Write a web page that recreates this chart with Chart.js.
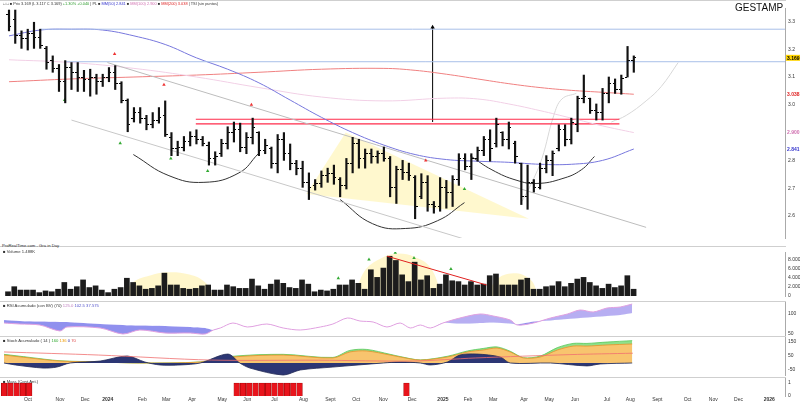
<!DOCTYPE html>
<html>
<head>
<meta charset="utf-8">
<script src="https://cdn.jsdelivr.net/npm/chart.js"></script>
<style>
body{margin:0;background:#fff;width:800px;height:403px;overflow:hidden;font-family:"Liberation Sans",Arial,sans-serif;position:relative}
.pn{position:absolute;left:0}
.txt{position:absolute;font-size:5px;color:#333;white-space:nowrap}
.sep{position:absolute;left:0;width:786px;height:1px;background:#cfcfcf}
</style>
</head>
<body>
<canvas class="pn" id="price" width="800" height="240" style="top:3px"></canvas>
<canvas class="pn" id="vol" width="800" height="52" style="top:248px"></canvas>
<canvas class="pn" id="rsi" width="800" height="34" style="top:302px"></canvas>
<canvas class="pn" id="sto" width="800" height="39" style="top:337px"></canvas>
<canvas class="pn" id="mass" width="800" height="25" style="top:378px"></canvas>
<div class="sep" style="top:0"></div>
<div class="sep" style="top:246px"></div>
<div class="sep" style="top:301px"></div>
<div class="sep" style="top:336px"></div>
<div class="sep" style="top:377px"></div>
<div class="txt" style="left:3px;top:1px;font-size:3.9px">&#9633; &#9633; &#9632; Prix 3.169 (L 3.117 C 3.169) <span style="color:#2a9a2a">+1.30% +0.040</span> | PL &#9632; <span style="color:#33c">MM(50) 2.841</span> &#9632; <span style="color:#d070b0">MM(100) 2.900</span> &#9632; <span style="color:#d22">MM(200) 3.038</span> | TSI (sin puntos)</div>
<div style="position:absolute;left:735px;top:2px;font-size:10px;color:#111">GESTAMP</div>
<div class="txt" style="left:2px;top:243px;font-size:4.2px">ProRealTime.com - Gra in Day</div>
<div class="txt" style="left:3px;top:249px;font-size:4.2px">&#9632; Volume 1.488K</div>
<div class="txt" style="left:3px;top:303px;font-size:4.2px">&#9632; RSI Acumulado (con BV) (70) <span style="color:#c080c0">125.0</span> <span style="color:#55c">102.5 37.575</span></div>
<div class="txt" style="left:3px;top:338px;font-size:4.2px">&#9632; Stoch Acumulado ( 14 ) <span style="color:#3a3">160</span> <span style="color:#e90">136</span> <span style="color:#33a">0</span> <span style="color:#d44">70</span></div>
<div class="txt" style="left:3px;top:379px;font-size:4.2px">&#9632; Mass (Cont.Ant.)</div>
<script>
// ---- data (weekly bars, x = week index) ----
const openP  = [3.324,3.307,3.248,3.238,3.255,3.241,3.203,3.159,3.131,3.083,3.134,3.117,3.100,3.090,3.097,3.083,3.097,3.117,3.076,3.014,2.952,2.972,2.952,2.928,2.945,2.962,2.883,2.841,2.848,2.869,2.886,2.876,2.855,2.807,2.824,2.859,2.900,2.910,2.848,2.883,2.900,2.834,2.841,2.790,2.876,2.824,2.790,2.772,2.721,2.710,2.717,2.745,2.752,2.731,2.710,2.790,2.859,2.807,2.824,2.814,2.824,2.807,2.703,2.766,2.755,2.738,2.669,2.721,2.641,2.634,2.703,2.686,2.731,2.807,2.779,2.807,2.834,2.876,2.859,2.900,2.876,2.859,2.790,2.669,2.721,2.703,2.772,2.800,2.841,2.910,2.876,2.928,3.021,3.024,2.979,2.972,3.041,3.076,3.055,3.100,3.159];
const highP  = [3.341,3.341,3.266,3.272,3.297,3.272,3.210,3.176,3.145,3.159,3.152,3.152,3.124,3.128,3.110,3.110,3.134,3.141,3.083,3.021,2.990,2.990,2.962,2.972,2.990,3.014,2.900,2.869,2.886,2.903,2.910,2.886,2.866,2.831,2.876,2.921,2.938,2.934,2.900,2.952,2.903,2.876,2.848,2.893,2.900,2.859,2.800,2.797,2.755,2.731,2.762,2.772,2.783,2.738,2.807,2.883,2.876,2.841,2.841,2.834,2.848,2.814,2.779,2.800,2.790,2.745,2.752,2.745,2.652,2.738,2.728,2.745,2.824,2.824,2.824,2.848,2.886,2.910,2.952,2.903,2.938,2.869,2.790,2.783,2.731,2.790,2.817,2.834,2.928,2.928,2.952,3.031,3.107,3.024,3.003,3.059,3.100,3.093,3.107,3.210,3.176];
const lowP   = [3.266,3.221,3.203,3.197,3.203,3.203,3.128,3.117,3.048,3.007,3.055,3.048,3.048,3.031,3.038,3.066,3.083,3.055,3.007,2.903,2.938,2.934,2.910,2.917,2.934,2.886,2.817,2.817,2.834,2.852,2.859,2.852,2.783,2.783,2.814,2.841,2.866,2.831,2.824,2.859,2.817,2.824,2.772,2.755,2.800,2.766,2.748,2.703,2.659,2.693,2.703,2.721,2.714,2.669,2.697,2.755,2.772,2.772,2.790,2.790,2.797,2.669,2.645,2.731,2.728,2.590,2.662,2.617,2.610,2.617,2.628,2.634,2.710,2.766,2.731,2.797,2.817,2.797,2.848,2.852,2.841,2.790,2.641,2.624,2.686,2.697,2.755,2.745,2.834,2.852,2.859,2.903,3.007,2.969,2.945,2.945,3.007,3.041,3.038,3.100,3.117];
const closeP = [3.283,3.248,3.238,3.255,3.241,3.214,3.152,3.131,3.083,3.134,3.117,3.100,3.090,3.097,3.083,3.097,3.117,3.076,3.014,2.928,2.972,2.952,2.928,2.945,2.955,2.893,2.841,2.848,2.869,2.886,2.876,2.859,2.807,2.814,2.859,2.900,2.910,2.848,2.883,2.917,2.834,2.855,2.790,2.876,2.824,2.790,2.772,2.721,2.703,2.717,2.745,2.752,2.738,2.710,2.790,2.859,2.807,2.824,2.814,2.824,2.807,2.703,2.766,2.755,2.745,2.634,2.721,2.641,2.634,2.703,2.686,2.731,2.807,2.779,2.807,2.834,2.876,2.841,2.928,2.876,2.917,2.814,2.669,2.721,2.703,2.772,2.800,2.824,2.910,2.876,2.938,3.021,3.031,2.979,2.972,3.041,3.076,3.055,3.093,3.159,3.169];
const volume = [930,2046,1302,1302,1302,744,1116,930,1488,2976,1488,2046,3534,1860,2232,1302,744,1488,1860,3906,2976,2232,1488,1674,2232,5022,2418,2418,1674,1488,1674,2232,2418,1302,1302,2418,2046,1674,1674,3720,2232,1488,2604,3534,2790,1860,1674,3534,2604,930,1302,1116,1488,2418,2418,3534,2790,1488,5766,4092,6138,8742,7812,4650,3162,7440,3534,4464,1674,2604,4650,3348,3162,2418,3162,2418,2604,4464,4836,2418,2418,2418,3534,3906,1488,1488,2046,2232,3162,2046,2790,3720,4092,2976,2232,1674,2604,1860,2232,4464,1488];

// moving averages, sampled at week indexes
const ma50Idx  = [0,5,10,15,20,25,30,35,40,45,50,55,60,65,70,75,80,85,90,95,100];
const ma50     = [3.248,3.269,3.272,3.269,3.248,3.217,3.169,3.128,3.079,3.017,2.955,2.900,2.855,2.821,2.803,2.797,2.793,2.786,2.786,2.800,2.841];
const ma100Idx = [0,10,20,30,40,50,60,70,75,80,85,90,95,100];
const ma100    = [3.162,3.152,3.131,3.100,3.062,3.028,3.014,3.024,3.021,3.003,2.979,2.952,2.924,2.900];
const ma200Idx = [0,10,20,30,40,50,60,65,70,75,80,85,90,95,100];
const ma200    = [3.083,3.093,3.100,3.107,3.117,3.128,3.131,3.124,3.110,3.093,3.076,3.062,3.052,3.045,3.038];

// drawn studies on the price panel (week index, price)
const resistBlue = [[5,3.272],[124.2,3.272]];
const resistBlue2 = [[9,3.155],[124.2,3.155]];
const redZoneHi = [[29.9,2.948],[97.7,2.948]];
const redZoneLo = [[29.9,2.931],[97.7,2.931]];
const channelUp = [[15.75,3.152],[101.97,2.559]];
const channelDn = [[10.0,2.945],[73.3,2.514]];
const arrowLine = [[67.8,2.938],[67.8,3.279]];
const cup1 = [[19.9,2.821],[25.6,2.745],[31.2,2.721],[36.8,2.755],[39.9,2.824]];
const cup2 = [[53.0,2.659],[58.2,2.572],[63.5,2.555],[68.6,2.583],[72.9,2.648]];
const cup3 = [[73.8,2.817],[77.3,2.766],[81.3,2.728],[84.5,2.717],[88.5,2.734],[91.6,2.766],[93.7,2.814]];
const triangle = [[47.6,2.679],[53.9,2.900],[83.2,2.590],[47.6,2.679]];
const envA = [[82.1,2.652],[83.7,2.721],[85.3,2.807],[87.2,2.962],[88.5,3.021],[90.8,3.041]];
const envB = [[96.4,2.938],[98.8,2.962],[101.97,3.014],[104.4,3.066],[107.1,3.152]];
const sigRed = [[16.9,3.183],[24.8,3.072],[38.8,3.000],[66.7,2.800]];
const sigGreen = [[8.9,3.017],[17.8,2.862],[25.9,2.807],[31.8,2.762],[72.9,2.697]];
const priceTicks = [2.6,2.7,2.8,2.9,3.0,3.1,3.2,3.3];

// volume panel studies
const volHump1 = [[18.5,0],[20,3000],[23,4600],[25.6,5200],[29,4700],[31.5,3000],[32.8,0]];
const volHump2 = [[55.5,0],[57,5500],[59.5,8200],[62,9300],[65,8600],[67.5,6300],[69.4,0]];
const volHump3 = [[76.8,0],[78,3500],[80.8,5000],[83.5,3600],[84.8,0]];
const volLine = [[60.6,8742],[76.5,2418]];
const volGreen = [[52.8,3906],[57.7,8000],[61.9,9500],[64.9,8370],[70.8,5952]];
const volTicks = [0,2000,4000,6000,8000];

// RSI acumulado
const rsiIdx = [0,2.5,5.7,8.9,10.0,15.3,18.9,21.6,25.6,29.6,32.0,33.3,34.4,36.4,38.7,41.8,44.4,47.1,50.3,52.3,54.6,56.6,58.7,60.9,63.0,64.6,66.2,67.8,69.8,72.5,75.7,77.8,80.5,81.6,84.2,86.9,89.6,91.6,93.7,95.9,98.0,99.9];
const rsiMain = [77.5,75,72.5,57.5,67.5,65,50,60,52.5,52.5,50,60,65,77.5,67.5,75,65,60,67.5,75,90,82.5,80,67.5,77.5,65,72.5,65,77.5,90,100,95,85,72.5,77.5,90,100,110,105,115,117.5,125];
const rsiSig  = [85,82.5,81,80,80,75,72.5,71,70,67.5,65,60,65,77.5,67.5,75,65,60,67.5,75,90,82.5,80,67.5,77.5,65,72.5,65,77.5,76,77.5,79,76,74,81,84,87.5,90,92.5,95,97.5,102.5];
const rsiTicks = [50,75,100,125];

// Stoch acumulado
const navyIdx = [0,1.8,6.2,8.4,10.5,15.3,19.6,22.4,24.8,28.0,31.2,35.6,37.5,39.1,44.4,47.1,52.3,60.3,63.0,66.2,67.8,70.5,72.5,75.2,78.9,80.5,86.9,92.7,94.8,99.9];
const navyVal = [0,-14,-36,-29,0,14,50,7,-14,-14,0,64,0,-36,-86,-50,-29,0,7,0,-14,7,57,64,43,0,0,-21,-7,0];
const orIdx = [0,4.1,8.9,15.3,21.6,31.2,36.4,44.4,52.3,55.0,57.7,61.4,63.0,66.2,70.5,73.7,76.2,78.4,80.5,82.6,85.3,88.0,90.5,92.7,95.9,99.9];
const orangeVal = [57,36,14,7,0,7,43,57,36,79,86,57,43,21,43,79,93,107,79,36,43,93,121,121,129,136];
const greenVal  = [62,40,16,8,0,8,48,62,40,90,97,62,46,22,48,86,104,115,84,38,50,110,140,140,150,160];
const redIdx = [0,15,33,50,65,75,90,100];
const redVal = [79,57,21,20,14,36,60,70];
const stoTicks = [-50,0,50,100,150];

// Mass indicator bars
const massIdx = [0,1,2,3,4,37,38,39,40,41,42,43,44,45,46,47,64];

// x axis
const monthLabels = ['Oct','Nov','Dec','2024','Feb','Mar','Apr','May','Jun','Jul','Aug','Sept','Oct','Nov','Dec','2025','Feb','Mar','Apr','May','Jun','Jul','Aug','Sept','Oct','Nov','Dec','2026'];
const monthPos = [3.8,8.9,12.9,16.5,22.0,25.8,29.9,34.7,38.7,43.0,47.6,51.9,56.0,60.3,64.9,69.8,73.8,77.8,82.7,86.7,90.8,95.9,99.6,103.9,108.7,112.8,116.8,121.7];

// ---- helpers ----
const X_MIN = -0.64, X_MAX = 124.2;
const pts = a => a.map(p => ({x: p[0], y: p[1]}));
const zip = (xs, ys) => xs.map((x, i) => ({x, y: ys[i]}));
const idx = openP.map((_, i) => i);

function xAxis(show) {
  return {
    type: 'linear', min: X_MIN, max: X_MAX, offset: false, display: show,
    grid: {display: false, drawTicks: false}, border: {display: false},
    afterBuildTicks: s => { s.ticks = monthPos.map(v => ({value: v})); },
    afterFit: s => { if (show) s.height = 7; else s.height = 0; },
    ticks: {
      autoSkip: false, maxRotation: 0, padding: 1, color: '#333',
      font: c => ({size: 5, weight: /^20/.test(monthLabels[c.index]) ? 'bold' : 'normal'}),
      callback: (v, i) => monthLabels[i]
    }
  };
}
function yAxis(min, max, ticks, fmt) {
  return {
    position: 'right', min, max,
    grid: {display: false, drawTicks: false}, border: {color: '#aaa'},
    afterBuildTicks: s => { s.ticks = ticks.map(v => ({value: v})); },
    afterFit: s => { s.width = 15; s.paddingTop = 0; s.paddingBottom = 0; },
    ticks: {font: {size: 5}, color: '#333', padding: 3, callback: fmt || (v => v)}
  };
}
function base(scales) {
  return {
    responsive: false, animation: false, events: [],
    layout: {padding: 0},
    plugins: {legend: {display: false}, tooltip: {enabled: false}},
    elements: {point: {radius: 0}},
    scales
  };
}
function line(data, color, w, extra) {
  return Object.assign({type: 'line', data, borderColor: color, borderWidth: w, pointRadius: 0, fill: false, order: 2}, extra || {});
}
function tick(left) {
  const c = document.createElement('canvas');
  c.width = 5; c.height = 1;
  const g = c.getContext('2d');
  g.fillStyle = '#000';
  g.fillRect(left ? 0 : 3, 0, 2, 1);
  return c;
}

// price tags on the right axis
const tagPlugin = {
  id: 'tags',
  afterDraw(chart) {
    const y = chart.scales.y, ctx = chart.ctx;
    const tags = [
      {v: closeP[closeP.length - 1], bg: '#ffd400', fg: '#000'},
      {v: ma200[ma200.length - 1], bg: '#fff', fg: '#e02020'},
      {v: ma100[ma100.length - 1], bg: '#fff', fg: '#d070b0'},
      {v: ma50[ma50.length - 1], bg: '#fff', fg: '#3333cc'}
    ];
    ctx.save();
    tags.forEach(t => {
      const py = y.getPixelForValue(t.v);
      ctx.fillStyle = t.bg;
      ctx.fillRect(786, py - 3, 14, 6);
      ctx.fillStyle = t.fg;
      ctx.font = 'bold 5px "Liberation Sans"';
      ctx.textBaseline = 'middle';
      ctx.fillText(t.v.toFixed(3), 787, py + 0.5);
    });
    ctx.restore();
  }
};

// ---- price chart ----
new Chart(document.getElementById('price'), {
  type: 'bar',
  data: {
    datasets: [
      {type: 'bar', data: idx.map(i => ({x: i, y: [lowP[i], highP[i]]})), backgroundColor: '#111', barThickness: 1.5, order: 0},
      {type: 'scatter', data: zip(idx, openP), pointStyle: tick(true), pointRadius: 2, order: 0},
      {type: 'scatter', data: zip(idx, closeP), pointStyle: tick(false), pointRadius: 2, order: 0},
      line(pts(triangle), 'rgba(0,0,0,0)', 0, {fill: 'shape', backgroundColor: 'rgba(255,245,190,0.75)', order: 10}),
      line(pts(channelUp), '#bdbdbd', 1),
      line(pts(channelDn), '#c8c8c8', 1),
      line(pts(resistBlue), '#a8bfe8', 1),
      line(pts(resistBlue2), '#a8bfe8', 1),
      line(zip(ma50Idx, ma50), '#7777dd', 1, {tension: 0.4}),
      line(zip(ma100Idx, ma100), '#f2d0e6', 1, {tension: 0.4}),
      line(zip(ma200Idx, ma200), '#f08080', 1, {tension: 0.4}),
      line(pts(redZoneHi), '#ff2b4a', 1.2),
      line(pts(redZoneLo), '#ff2b4a', 1.2),
      line(pts(cup1), '#333', 1, {tension: 0.45}),
      line(pts(cup2), '#333', 1, {tension: 0.45}),
      line(pts(cup3), '#333', 1, {tension: 0.45}),
      line(pts(envA), '#d8d8d8', 1, {tension: 0.4}),
      line(pts(envB), '#d8d8d8', 1, {tension: 0.4}),
      line(pts(arrowLine), '#000', 1),
      {type: 'scatter', data: [pts(arrowLine)[1]], pointStyle: 'triangle', pointRadius: 2.5, backgroundColor: '#000', borderWidth: 0, order: 1},
      {type: 'scatter', data: pts(sigRed), pointStyle: 'triangle', pointRadius: 2, backgroundColor: '#e33', borderWidth: 0, order: 1},
      {type: 'scatter', data: pts(sigGreen), pointStyle: 'triangle', pointRadius: 2, backgroundColor: '#3a3', borderWidth: 0, order: 1}
    ]
  },
  options: base({x: xAxis(false), y: yAxis(2.5207, 3.3483, priceTicks, v => v.toFixed(1))}),
  plugins: [tagPlugin]
});

// ---- volume ----
new Chart(document.getElementById('vol'), {
  type: 'bar',
  data: {
    datasets: [
      {type: 'bar', data: zip(idx, volume), backgroundColor: '#1c1c1c', barThickness: 5, order: 0},
      line(pts(volHump1), 'rgba(0,0,0,0)', 0, {fill: 'origin', backgroundColor: 'rgba(255,244,190,0.8)', tension: 0.4, order: 10}),
      line(pts(volHump2), 'rgba(0,0,0,0)', 0, {fill: 'origin', backgroundColor: 'rgba(255,244,190,0.8)', tension: 0.4, order: 10}),
      line(pts(volHump3), 'rgba(0,0,0,0)', 0, {fill: 'origin', backgroundColor: 'rgba(255,244,190,0.8)', tension: 0.4, order: 10}),
      line(pts(volLine), '#e02020', 1, {order: -1}),
      {type: 'scatter', data: pts(volGreen), pointStyle: 'triangle', pointRadius: 2, backgroundColor: '#3a3', borderWidth: 0, order: -1}
    ]
  },
  options: base({x: xAxis(false), y: yAxis(0, 9672, volTicks, v => v ? (v / 1000).toFixed(3) + 'K' : '0')})
});

// ---- RSI acumulado ----
new Chart(document.getElementById('rsi'), {
  type: 'line',
  data: {
    datasets: [
      line(zip(rsiIdx, rsiMain), '#e0a0e0', 1, {tension: 0.3, fill: {target: 1, above: 'rgba(170,160,240,0.85)', below: 'rgba(125,125,235,0.85)'}}),
      line(zip(rsiIdx, rsiSig), 'rgba(0,0,0,0)', 0, {tension: 0.3})
    ]
  },
  options: base({x: xAxis(false), y: yAxis(45, 130, rsiTicks)})
});

// ---- Stoch acumulado ----
new Chart(document.getElementById('sto'), {
  type: 'line',
  data: {
    datasets: [
      line(zip(orIdx, greenVal), '#58c858', 0.8, {fill: 'origin', backgroundColor: '#8ee08a', tension: 0.3, order: 5}),
      line(zip(orIdx, orangeVal), '#e8902a', 0.8, {fill: 'origin', backgroundColor: '#f8c46e', tension: 0.3, order: 4}),
      line(zip(navyIdx, navyVal), '#222a55', 0.8, {fill: 'origin', backgroundColor: '#2c3674', tension: 0.3, order: 3}),
      line(zip(redIdx, redVal), '#f07070', 0.8, {tension: 0.3, order: 1})
    ]
  },
  options: base({x: xAxis(false), y: yAxis(-93, 186, stoTicks)})
});

// ---- Mass ----
new Chart(document.getElementById('mass'), {
  type: 'bar',
  data: {
    datasets: [
      {data: massIdx.map(i => ({x: i, y: 1})), backgroundColor: '#e8141c', borderColor: '#900', borderWidth: 0.6, barThickness: 5.6}
    ]
  },
  options: base({x: xAxis(true), y: yAxis(0, 1.38, [0, 0.5, 1])})
});
</script>
</body>
</html>
